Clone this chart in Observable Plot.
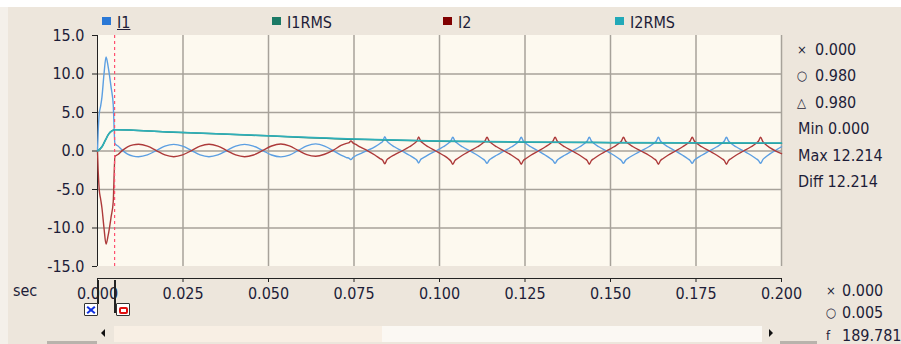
<!DOCTYPE html>
<html><head><meta charset="utf-8">
<script src="https://cdn.jsdelivr.net/npm/d3@7"></script>
<script src="https://cdn.jsdelivr.net/npm/@observablehq/plot@0.6"></script>
<style>
html,body{margin:0;padding:0;background:#fff;}
#wrap{position:relative;width:901px;height:344px;overflow:hidden;background:#fff;
  font-family:"DejaVu Sans Condensed","DejaVu Sans",sans-serif;font-stretch:condensed;font-size:16px;color:#1d1d38;}
#bg{position:absolute;left:8px;top:7px;right:0;bottom:0;background:#ede6dc;}
#strip{position:absolute;left:0;top:7px;width:8px;bottom:0;background:#f4f0ea;}
#chart{position:absolute;left:0;top:0;}
.t{position:absolute;white-space:nowrap;line-height:1;}
.sq{position:absolute;width:9px;height:8px;top:17px;}
.sym{position:absolute;font-size:13px;line-height:1;}
.box{position:absolute;width:12px;height:11px;background:#fff;border:1px solid #333;border-radius:1px;}
</style>
</head><body>
<div id="wrap">
  <div id="strip"></div>
  <div id="bg"></div>
  <div id="chart"></div>
  <div id="legend"></div>
  <div id="panel"></div>
  <div id="bottom"></div>
</div>
<script>
// ---- data ----
const t = [
  0, 0.0002, 0.0005, 0.0009, 0.0013, 0.0019, 0.0025, 0.0031, 0.0040, 0.0046, 0.0051,
  0.0060, 0.0073, 0.0088, 0.0104, 0.0120,
  0.0146, 0.0172, 0.0197, 0.0223,
  0.0249, 0.0275, 0.0300, 0.0326,
  0.0352, 0.0378, 0.0404, 0.0430,
  0.0456, 0.0483, 0.0509, 0.0536,
  0.0561, 0.0587, 0.0612, 0.0638,
  0.0664, 0.0690, 0.0712, 0.0728, 0.0736, 0.0741, 0.0747, 0.0754, 0.0769, 0.0790, 0.0812, 0.0826, 0.0834, 0.0840,
  0.0846, 0.0853, 0.0868, 0.0890, 0.0912, 0.0927, 0.0934, 0.0939,
  0.0945, 0.0952, 0.0967, 0.0989, 0.1011, 0.1026, 0.1033, 0.1039,
  0.1045, 0.1052, 0.1067, 0.1089, 0.1111, 0.1126, 0.1133, 0.1139,
  0.1145, 0.1152, 0.1167, 0.1189, 0.1211, 0.1226, 0.1233, 0.1239,
  0.1245, 0.1252, 0.1267, 0.1289, 0.1310, 0.1325, 0.1332, 0.1338,
  0.1344, 0.1351, 0.1366, 0.1388, 0.1410, 0.1425, 0.1432, 0.1438,
  0.1444, 0.1451, 0.1466, 0.1488, 0.1510, 0.1525, 0.1532, 0.1538,
  0.1544, 0.1551, 0.1566, 0.1589, 0.1612, 0.1627, 0.1634, 0.1640,
  0.1646, 0.1653, 0.1668, 0.1690, 0.1711, 0.1726, 0.1733, 0.1739,
  0.1745, 0.1752, 0.1767, 0.1789, 0.1811, 0.1826, 0.1833, 0.1839,
  0.1845, 0.1852, 0.1867, 0.1889, 0.1911, 0.1926, 0.1933, 0.1939,
  0.1945, 0.1952, 0.1967, 0.1985, 0.2000
];
const i1 = [
  0, 2.5, 4.8, 5.8, 7.0, 10.0, 12.2, 11.0, 8.2, 6.0, 0.95,
  0.65, 0.08, -0.40, -0.66, -0.74,
  -0.51, 0.06, 0.63, 0.86,
  0.63, 0.06, -0.51, -0.74,
  -0.51, 0.06, 0.63, 0.86,
  0.63, 0.06, -0.52, -0.76,
  -0.53, 0.07, 0.67, 0.93,
  0.63, 0.03, -0.55, -0.85, -0.95, -1.12, -0.85, -0.65, -0.35, 0.08, 0.58, 0.98, 1.25, 1.86,
  1.30, 1.00, 0.55, 0.00, -0.55, -0.95, -1.20, -1.55,
  -1.10, -0.90, -0.50, 0.00, 0.55, 1.00, 1.30, 1.78,
  1.30, 1.00, 0.55, 0.00, -0.55, -1.00, -1.25, -1.60,
  -1.20, -0.95, -0.55, 0.00, 0.55, 1.00, 1.30, 1.78,
  1.30, 1.00, 0.55, 0.00, -0.55, -1.00, -1.25, -1.60,
  -1.20, -0.95, -0.55, 0.00, 0.55, 1.00, 1.30, 1.78,
  1.30, 1.00, 0.55, 0.00, -0.55, -1.00, -1.25, -1.60,
  -1.20, -0.95, -0.55, 0.00, 0.55, 1.00, 1.30, 1.78,
  1.30, 1.00, 0.55, 0.00, -0.55, -1.00, -1.25, -1.60,
  -1.20, -0.95, -0.55, 0.00, 0.55, 1.00, 1.30, 1.78,
  1.30, 1.00, 0.55, 0.00, -0.55, -1.00, -1.25, -1.60,
  -1.15, -0.85, -0.35, 0.15, 0.55
];
const i2 = [
  0, -2.6, -5.0, -6.2, -7.4, -10.0, -12.1, -11.0, -8.5, -6.6, -0.70,
  -0.45, 0.08, 0.55, 0.80, 0.87,
  0.63, 0.06, -0.51, -0.74,
  -0.51, 0.06, 0.63, 0.87,
  0.63, 0.06, -0.51, -0.74,
  -0.52, 0.07, 0.65, 0.90,
  0.66, 0.07, -0.47, -0.68,
  -0.42, 0.12, 0.72, 1.00, 1.10, 1.32, 1.05, 0.88, 0.50, 0.03, -0.55, -0.98, -1.20, -1.66,
  -1.15, -0.90, -0.50, 0.00, 0.55, 1.00, 1.30, 1.82,
  1.30, 1.00, 0.55, 0.00, -0.55, -1.00, -1.30, -1.72,
  -1.25, -1.00, -0.55, 0.00, 0.55, 1.00, 1.30, 1.78,
  1.30, 1.00, 0.55, 0.00, -0.55, -1.00, -1.25, -1.72,
  -1.25, -1.00, -0.55, 0.00, 0.55, 1.00, 1.30, 1.78,
  1.30, 1.00, 0.55, 0.00, -0.55, -1.00, -1.25, -1.72,
  -1.25, -1.00, -0.55, 0.00, 0.55, 1.00, 1.30, 1.78,
  1.30, 1.00, 0.55, 0.00, -0.55, -1.00, -1.25, -1.72,
  -1.25, -1.00, -0.55, 0.00, 0.55, 1.00, 1.30, 1.78,
  1.30, 1.00, 0.55, 0.00, -0.55, -1.00, -1.25, -1.72,
  -1.25, -1.00, -0.55, 0.00, 0.55, 1.00, 1.30, 1.78,
  1.25, 0.90, 0.40, -0.05, -0.35
];
const rmsT  = [0, 0.0013, 0.0023, 0.0032, 0.0042, 0.0052, 0.020, 0.045, 0.075, 0.100, 0.125, 0.150, 0.175, 0.200];
const i1rms = [0, 0.55, 1.40, 2.15, 2.60, 2.75, 2.48, 2.05, 1.52, 1.28, 1.15, 1.08, 1.03, 1.00];
const i2rms = [0, 0.55, 1.40, 2.15, 2.61, 2.76, 2.50, 2.07, 1.55, 1.30, 1.17, 1.10, 1.06, 1.03];

const xDomain = [0, 0.2];
const yDomain = [-15, 15];
const xTicks = [0, 0.025, 0.05, 0.075, 0.1, 0.125, 0.15, 0.175, 0.2];
const yTicks = [-15, -10, -5, 0, 5, 10, 15];
const gridX = [0.025, 0.05, 0.075, 0.1, 0.125, 0.15, 0.175, 0.2];
const gridY = [-10, -5, 0, 5, 10];
const cursorT = [0, 0.005];

const seriesNames = ["I1", "I1RMS", "I2", "I2RMS"];
const legendColors = ["#2a78d6", "#1b7a66", "#800000", "#22a9b8"];
const lineColors = ["#5c9fe2", "#1f8676", "#ad3a3a", "#2fb0ba"];
const legendX = [102, 272, 443, 615];

const panelLabels = ["×", "○", "△", "Min", "Max", "Diff"];
const panelValues = ["0.000", "0.980", "0.980", "0.000", "12.214", "12.214"];
const bottomLabels = ["×", "○", "f"];
const bottomValues = ["0.000", "0.005", "189.781"];

// ---- build ----
const wave = t.map((x, k) => ({t: x, I1: i1[k], I2: i2[k]}));
const rms = rmsT.map((x, k) => ({t: x, I1RMS: i1rms[k], I2RMS: i2rms[k]}));
const FONT = '"DejaVu Sans Condensed","DejaVu Sans",sans-serif';

const plot = Plot.plot({
  width: 901, height: 344,
  marginLeft: 97, marginRight: 120, marginTop: 35, marginBottom: 66,
  insetBottom: 12,
  style: {background: "transparent", fontFamily: FONT, fontSize: "16px", color: "#1d1d38", overflow: "visible", fontStretch: "condensed"},
  x: {domain: xDomain, label: null},
  y: {domain: yDomain, label: null},
  marks: [
    Plot.rect([{x1: xDomain[0], x2: xDomain[1], y1: yDomain[0], y2: yDomain[1]}],
      {x1: "x1", x2: "x2", y1: "y1", y2: "y2", fill: "#fdf9ef"}),
    Plot.ruleX(gridX.map(x => ({x, y1: yDomain[0], y2: yDomain[1]})),
      {x: "x", y1: "y1", y2: "y2", stroke: "#a7a29a", strokeWidth: 1.5}),
    Plot.ruleY(gridY, {stroke: "#a7a29a", strokeWidth: 1.5}),
    Plot.ruleX([{x: xDomain[0], y1: yDomain[0], y2: yDomain[1]}],
      {x: "x", y1: "y1", y2: "y2", stroke: "#222", strokeWidth: 1}),
    Plot.ruleY([yDomain[0]], {dy: 12, stroke: "#222", strokeWidth: 1}),
    Plot.axisY({ticks: yTicks, tickSize: 5, tickPadding: 8, tickFormat: d => d.toFixed(1), stroke: "#222"}),
    Plot.axisX({ticks: xTicks, tickSize: 4, tickPadding: 5, tickFormat: d3.format(".3f"), stroke: "#222"}),
    Plot.line(wave, {x: "t", y: "I1", stroke: lineColors[0], strokeWidth: 1.4, curve: "monotone-x"}),
    Plot.line(rms, {x: "t", y: "I1RMS", stroke: lineColors[1], strokeWidth: 1.5, curve: "monotone-x"}),
    Plot.line(wave, {x: "t", y: "I2", stroke: lineColors[2], strokeWidth: 1.4, curve: "monotone-x"}),
    Plot.line(rms, {x: "t", y: "I2RMS", stroke: lineColors[3], strokeWidth: 1.5, curve: "monotone-x"}),
    Plot.ruleX([{x: cursorT[1], y1: yDomain[0], y2: yDomain[1]}],
      {x: "x", y1: "y1", y2: "y2", stroke: "#ff5070", strokeWidth: 1.2, strokeDasharray: "3,3"})
  ]
});
document.getElementById("chart").appendChild(plot);

function add(parent, cls, css, text) {
  const d = document.createElement("div");
  if (cls) d.className = cls;
  Object.assign(d.style, css);
  if (text != null) d.textContent = text;
  parent.appendChild(d);
  return d;
}

// legend
const legend = document.getElementById("legend");
seriesNames.forEach((name, k) => {
  add(legend, "sq", {left: legendX[k] + "px", background: legendColors[k]});
  const tx = add(legend, "t", {left: (legendX[k] + 15) + "px", top: "15px"}, name);
  if (k === 0) tx.style.textDecoration = "underline";
});

// right panel
const panel = document.getElementById("panel");
panelLabels.forEach((lab, k) => {
  const top = 41.5 + k * 26.5;
  if (k < 3) {
    add(panel, "sym", {left: "797px", top: (top + 1) + "px"}, lab);
    add(panel, "t", {left: "815px", top: top + "px"}, panelValues[k]);
  } else {
    add(panel, "t", {left: "798px", top: top + "px"}, lab + " " + panelValues[k]);
  }
});

// bottom area
const bottom = document.getElementById("bottom");
add(bottom, "t", {left: "13px", top: "283px"}, "sec");
bottomLabels.forEach((lab, k) => {
  const top = 283 + k * 22.3;
  add(bottom, "sym", {left: "826px", top: (top + 1) + "px"}, lab);
  add(bottom, "t", {left: "842px", top: top + "px"}, bottomValues[k]);
});
// scrollbar
add(bottom, null, {position: "absolute", left: "101px", top: "329px", width: "0", height: "0",
  borderTop: "4px solid transparent", borderBottom: "4px solid transparent", borderRight: "4px solid #111"});
add(bottom, null, {position: "absolute", left: "114px", top: "326px", width: "268px", height: "16px", background: "#f8efe4"});
add(bottom, null, {position: "absolute", left: "382px", top: "326px", width: "380px", height: "16px", background: "#fbf8f3"});
add(bottom, null, {position: "absolute", left: "769px", top: "329px", width: "0", height: "0",
  borderTop: "4px solid transparent", borderBottom: "4px solid transparent", borderLeft: "4px solid #111"});
add(bottom, null, {position: "absolute", left: "47px", top: "341px", width: "50px", height: "3px", background: "#b8b3ac"});
add(bottom, null, {position: "absolute", left: "780px", top: "341px", width: "37px", height: "3px", background: "#b8b3ac"});

// cursor markers under the x axis, placed with the plot's x scale
const xs = plot.scale("x");
cursorT.forEach((c, k) => {
  const px = xs.apply(c);
  add(bottom, null, {position: "absolute", left: (px - 0.5) + "px", top: "280px", width: "2px", height: (k ? 33 : 24) + "px", background: "#222"});
  if (k === 0) {
    const b = add(bottom, "box", {left: (px - 13) + "px", top: "303px"});
    add(b, null, {position: "absolute", left: "1px", top: "4.5px", width: "10px", height: "2px", background: "#1030e0", transform: "rotate(40deg)"});
    add(b, null, {position: "absolute", left: "1px", top: "4.5px", width: "10px", height: "2px", background: "#1030e0", transform: "rotate(-40deg)"});
  } else {
    const b = add(bottom, "box", {left: (px + 2) + "px", top: "303px"});
    add(b, null, {position: "absolute", left: "2px", top: "3px", width: "5px", height: "3px", border: "2px solid #e01010", borderRadius: "2px"});
  }
});
</script>
</body></html>
